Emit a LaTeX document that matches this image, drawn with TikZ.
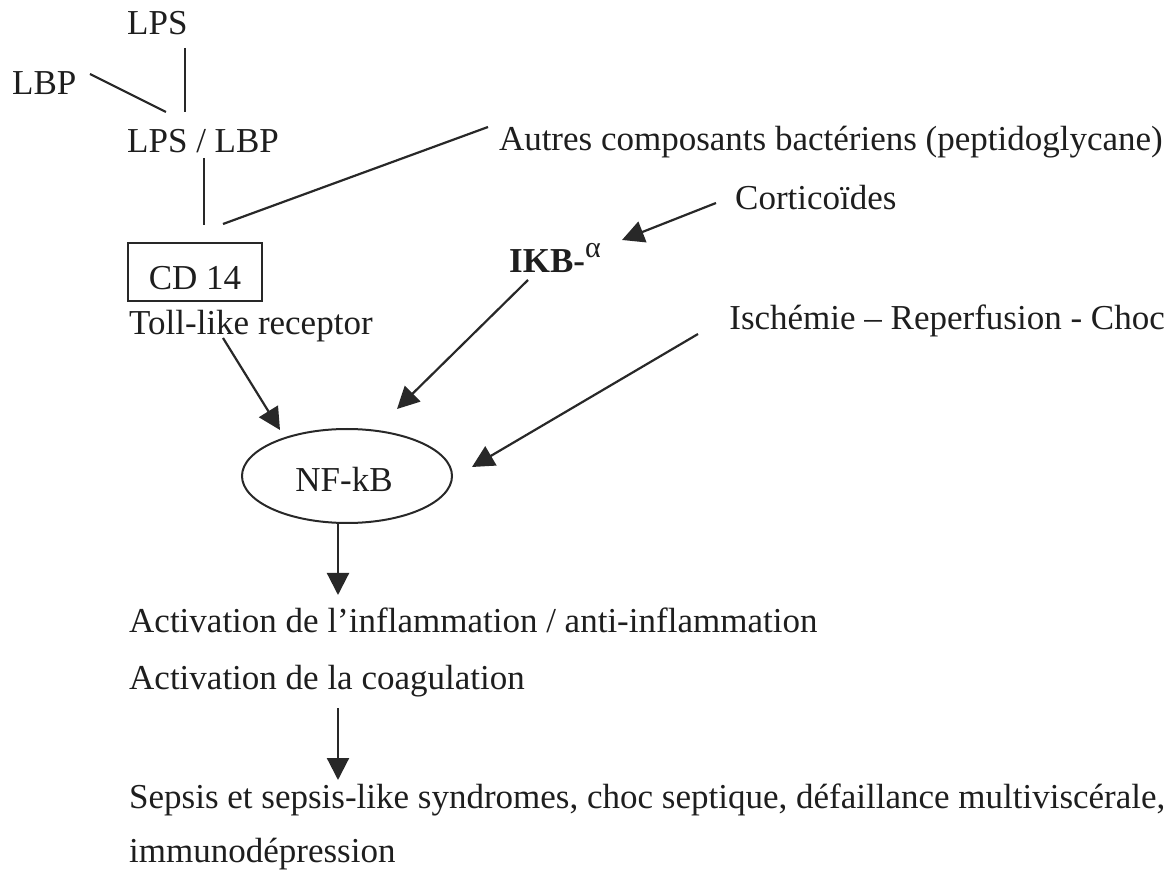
\documentclass[tikz,border=0pt]{standalone}
\usepackage{fontspec}
\setmainfont{Liberation Serif}
\usetikzlibrary{arrows.meta,shapes.geometric}
\definecolor{ink}{HTML}{1E1E1E}
\definecolor{wire}{HTML}{282828}
\begin{document}
\begin{tikzpicture}[x=1pt,y=-1pt,
  every node/.style={font=\fontsize{35}{40}\selectfont, text=ink, inner sep=0pt},
  lbl/.style={anchor=base west},
  rlbl/.style={anchor=base east},
  link/.style={draw=wire, line width=2.2pt},
  arr/.style={link, -{Triangle[length=22pt,width=22pt]}}]
\useasboundingbox (0,0) rectangle (1171,874);

% texts
\node[lbl] (lps) at (127,35) {LPS};
\node[lbl] (lbp) at (12,95) {LBP};
\node[lbl] (lpslbp) at (127,153) {LPS / LBP};
\node[rlbl] (autres) at (1163,151) {Autres composants bactériens (peptidoglycane)};
\node[lbl] (cortico) at (735,210) {Corticoïdes};
\node[lbl] (ikb) at (509,273) {\textbf{IKB-}\raisebox{0.45em}{\fontsize{30}{34}\selectfont α}};
\node[draw=wire, line width=2pt, minimum width=134pt, text height=47pt, text depth=11pt,
      anchor=base] (cd14) at (195,290) {CD 14};
\node[lbl] (toll) at (129,335) {Toll-like receptor};
\node[rlbl] (ischemie) at (1165,330) {Ischémie – Reperfusion - Choc};
\node[draw=wire, line width=2pt, ellipse, minimum width=210pt, minimum height=94pt] (nfkb) at (347,476) {};
\node[anchor=base] (nfkbtxt) at (344,492) {NF-kB};
\node[lbl] (inflam) at (129,632) {Activation de l’inflammation / anti-inflammation};
\node[lbl] (coag) at (129,689) {Activation de la coagulation};
\node[lbl] (sepsis) at (129,808) {Sepsis et sepsis-like syndromes, choc septique, défaillance multiviscérale,};
\node[lbl] (immuno) at (129,862) {immunodépression};

% connector end points
\coordinate (lpsA) at (185,48);
\coordinate (lpsB) at (185,112);
\coordinate (lbpA) at (90,74);
\coordinate (lbpB) at (166,112);
\coordinate (cxA) at (204,158);
\coordinate (cxB) at (204,225);
\coordinate (auA) at (488,127);
\coordinate (auB) at (223,224);
\coordinate (coA) at (716,203);
\coordinate (coB) at (622,240);
\coordinate (ikA) at (528,280);
\coordinate (ikB) at (397,409);
\coordinate (tlA) at (223,338);
\coordinate (tlB) at (280,430);
\coordinate (isA) at (698,334);
\coordinate (isB) at (472,467);
\coordinate (nfB) at (338,595);
\coordinate (cgA) at (338,708);
\coordinate (cgB) at (338,780);

% binding lines
\draw[link] (lpsA) -- (lpsB);
\draw[link] (lbpA) -- (lbpB);
\draw[link] (cxA) -- (cxB);
\draw[link] (auA) -- (auB);

% arrows
\draw[arr] (coA) -- (coB);
\draw[arr] (ikA) -- (ikB);
\draw[arr] (tlA) -- (tlB);
\draw[arr] (isA) -- (isB);
\draw[arr] (nfkb.south -| nfB) -- (nfB);
\draw[arr] (cgA) -- (cgB);
\end{tikzpicture}
\end{document}
